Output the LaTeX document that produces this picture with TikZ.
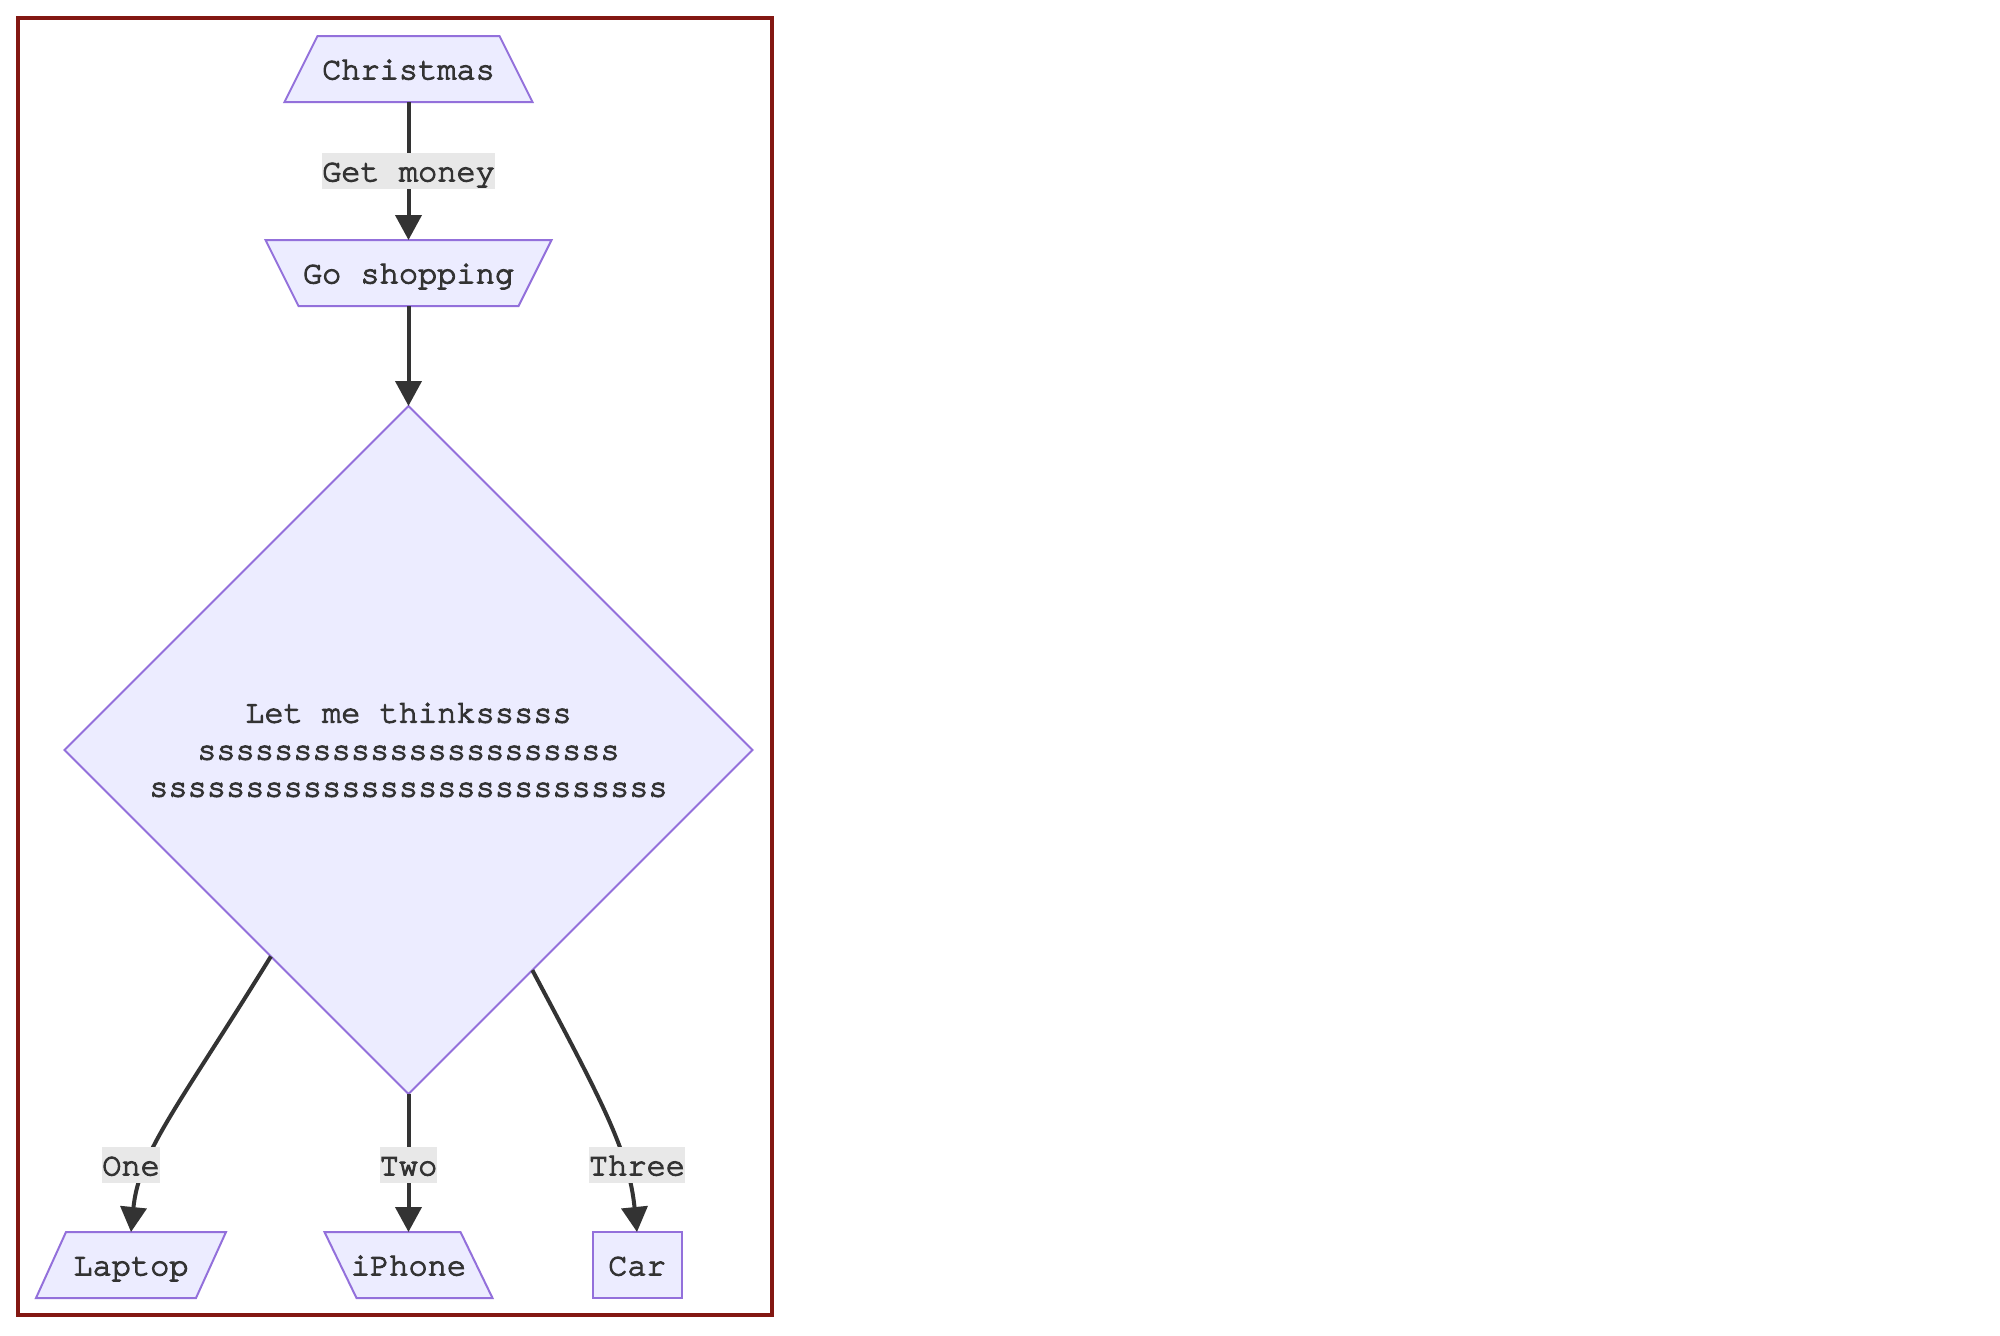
\documentclass[tikz,border=0pt]{standalone}
\usepackage{fontspec}
\setmonofont{texgyrecursor-regular.otf}[FakeBold=3.5]
\usetikzlibrary{shapes.geometric,arrows.meta,calc}

\definecolor{nodefill}{HTML}{ECECFF}
\definecolor{nodeline}{HTML}{9370DB}
\definecolor{ink}{HTML}{333333}
\definecolor{labelbg}{HTML}{E8E8E8}
\definecolor{framered}{RGB}{131,23,18}

\pgfdeclarelayer{background}
\pgfsetlayers{background,main}

\tikzset{
  txt/.style={font=\ttfamily\fontsize{32}{37}\selectfont, text=ink},
  box/.style={txt, draw=none, inner sep=0pt, outer sep=0pt,
    minimum height=66pt, text height=25.5pt, text depth=5pt},
  outline/.style={fill=nodefill, draw=nodeline, line width=2pt, line join=miter},
  decision/.style={txt, diamond, fill=nodefill, draw=nodeline, line width=1.8pt,
    minimum width=688pt, minimum height=688pt, inner sep=0pt, outer sep=0pt,
    align=center},
  edge/.style={draw=ink, line width=4pt, -{Triangle[length=25pt,width=26pt]}},
  edgelabel/.style={txt, fill=labelbg, inner xsep=0pt, inner ysep=3pt,
    text height=25.5pt, text depth=5pt},
}

\begin{document}
\begin{tikzpicture}[x=1pt,y=-1pt]
\useasboundingbox (0,0) rectangle (2000,1336);

% subgraph border
\draw[framered, line width=4pt] (18,18) rectangle (772,1315);

% nodes (text and extent)
\node[box, minimum width=248pt] (xmas) at (408.5,69) {Christmas};
\node[box, minimum width=286pt] (shop) at (408.5,273) {Go shopping};
\node[decision] (think) at (408.5,750)
  {Let me thinksssss\\ssssssssssssssssssssss\\sssssssssssssssssssssssssss};
\node[box, minimum width=190pt] (laptop) at (131,1265) {Laptop};
\node[box, minimum width=168pt] (iphone) at (408.5,1265) {iPhone};
\node[box, minimum width=89pt] (car) at (637,1265) {Car};

% node outlines behind the text
\begin{pgfonlayer}{background}
  \draw[outline] (xmas.south west) -- (xmas.south east)
    -- ($(xmas.north east)+(-33,0)$) -- ($(xmas.north west)+(33,0)$) -- cycle;
  \draw[outline] (shop.north west) -- (shop.north east)
    -- ($(shop.south east)+(-33,0)$) -- ($(shop.south west)+(33,0)$) -- cycle;
  \draw[outline] (laptop.south west) -- ($(laptop.south east)+(-30,0)$)
    -- (laptop.north east) -- ($(laptop.north west)+(30,0)$) -- cycle;
  \draw[outline] (iphone.north west) -- ($(iphone.north east)+(-32,0)$)
    -- (iphone.south east) -- ($(iphone.south west)+(32,0)$) -- cycle;
  \draw[outline] (car.south west) rectangle (car.north east);
\end{pgfonlayer}

% connectors
\draw[edge] (xmas.south) -- (shop.north);
\draw[edge] (shop.south) -- (think.north);
\draw[edge] (think.south) -- (iphone.north);
\draw[edge] ($(think.south)!0.4!(think.west)$)
  .. controls (178,1107) and (139,1152) .. (laptop.north);
\draw[edge] ($(think.south)!0.36!(think.east)$)
  .. controls (603,1103) and (629,1152) .. (car.north);

% connector labels
\node[edgelabel] (lmoney) at (408.5,171) {Get money};
\node[edgelabel] (lone) at (131,1165) {One};
\node[edgelabel] (ltwo) at (408.5,1165) {Two};
\node[edgelabel] (lthree) at (637,1165) {Three};
\end{tikzpicture}
\end{document}
